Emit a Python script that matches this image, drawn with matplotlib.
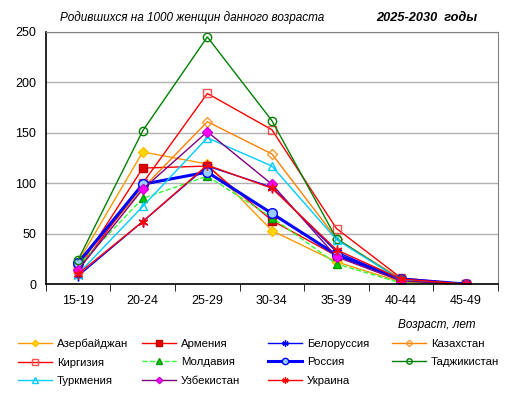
import matplotlib
matplotlib.use('Agg')
import matplotlib.pyplot as plt
import matplotlib.lines as mlines
import numpy as np

plt.rcParams['font.family'] = ['Liberation Sans', 'DejaVu Sans']

ages = ['15-19', '20-24', '25-29', '30-34', '35-39', '40-44', '45-49']

azerbaijan = [22, 131, 119, 53, 22, 2, 0]
armenia = [15, 115, 117, 63, 28, 4, 0]
belarus = [8, 62, 117, 96, 32, 4, 0]
kazakhstan = [20, 95, 161, 129, 45, 5, 0]
kyrgyzstan = [14, 100, 189, 153, 55, 6, 0]
moldova = [18, 85, 107, 66, 20, 1, 0]
russia = [21, 99, 111, 70, 29, 5, 0]
tajikistan = [24, 152, 245, 162, 45, 4, 0]
turkmenia = [10, 77, 145, 117, 44, 4, 0]
uzbekistan = [14, 94, 151, 99, 27, 3, 0]
ukraine = [10, 62, 118, 95, 34, 5, 0]

# name, data, line color, marker, marker face, marker edge, ls, lw, ms
series = [
    ('Азербайджан', azerbaijan, '#FF9900', 'D', '#FFD700', '#FFC000', '-', 1, 5),
    ('Армения', armenia, '#FF0000', 's', '#E00000', '#C00000', '-', 1, 6),
    ('Белоруссия', belarus, '#0000FF', (6, 2, 0), 'none', '#0000FF', '-', 1, 7),
    ('Казахстан', kazakhstan, '#FF8000', 'D', 'none', '#FF9933', '-', 1, 5),
    ('Киргизия', kyrgyzstan, '#FF0000', 's', 'none', '#FF5050', '-', 1, 6),
    ('Молдавия', moldova, '#33FF33', '^', '#00CC00', '#009900', '--', 1, 6),
    ('Россия', russia, '#0000FF', 'o', '#99CCFF', '#0000FF', '-', 2.2, 7),
    ('Таджикистан', tajikistan, '#008000', 'o', 'none', '#008000', '-', 1, 6),
    ('Туркмения', turkmenia, '#00CCFF', '^', 'none', '#00CCFF', '-', 1, 6),
    ('Узбекистан', uzbekistan, '#800080', 'D', '#FF00FF', '#CC00CC', '-', 1, 5),
    ('Украина', ukraine, '#FF0000', (6, 2, 0), 'none', '#FF0000', '-', 1, 7),
]

fig = plt.figure(figsize=(5.15, 3.94), dpi=100)
ax = fig.add_axes([0.089, 0.279, 0.878, 0.640])

x = np.arange(len(ages))
handles = {}
for name, data, lc, mk, mfc, mec, ls, lw, ms in series:
    h, = ax.plot(x, data, color=lc, linestyle=ls, linewidth=lw, marker=mk,
                 markerfacecolor=mfc, markeredgecolor=mec, markersize=ms,
                 markeredgewidth=1, label=name)
    handles[name] = h

ax.set_xlim(-0.5, len(ages) - 0.5)
ax.set_ylim(0, 250)
ax.set_yticks([0, 50, 100, 150, 200, 250])
ax.set_xticks(x)
ax.set_xticklabels(ages, fontsize=9)
ax.set_xticks(np.arange(-0.5, len(ages), 1), minor=True)
ax.tick_params(axis='x', which='major', length=0, pad=8)
ax.tick_params(axis='x', which='minor', length=5, direction='out', color='black')
ax.tick_params(axis='y', length=0, labelsize=9, pad=7)
ax.grid(axis='y', color='#B0B0B0', linewidth=1)
ax.set_axisbelow(True)
ax.spines['left'].set_color('black')
ax.spines['bottom'].set_color('black')
ax.spines['left'].set_linewidth(1.2)
ax.spines['bottom'].set_linewidth(1.2)
ax.spines['top'].set_color('#808080')
ax.spines['right'].set_color('#808080')

fig.text(0.117, 0.955, 'Родившихся на 1000 женщин данного возраста',
         fontsize=8.5, style='italic', va='center')
fig.text(0.73, 0.955, '2025-2030  годы', fontsize=9.2, style='italic',
         fontweight='bold', va='center')
fig.text(0.773, 0.175, 'Возраст, лет', fontsize=8.5, style='italic', va='center')

# legend: 4 equal-width columns like the Excel original
columns = [['Азербайджан', 'Киргизия', 'Туркмения'],
           ['Армения', 'Молдавия', 'Узбекистан'],
           ['Белоруссия', 'Россия', 'Украина'],
           ['Казахстан', 'Таджикистан']]
col_x = [18, 142, 268, 392]
for names, cx in zip(columns, col_x):
    leg_handles = []
    for n in names:
        h = handles[n]
        lh = mlines.Line2D([], [], color=h.get_color(), linestyle=h.get_linestyle(),
                           linewidth=h.get_linewidth(), marker=h.get_marker(),
                           markerfacecolor=h.get_markerfacecolor(),
                           markeredgecolor=h.get_markeredgecolor(),
                           markersize=h.get_markersize() * 0.65)
        leg_handles.append(lh)
    fig.legend(leg_handles, names, loc='upper left',
               bbox_to_anchor=(cx / 515, 0.14), frameon=False, fontsize=8.2,
               handlelength=3.0, handletextpad=0.4, labelspacing=0.75,
               borderpad=0, borderaxespad=0)

fig.savefig('out.png', dpi=100)
